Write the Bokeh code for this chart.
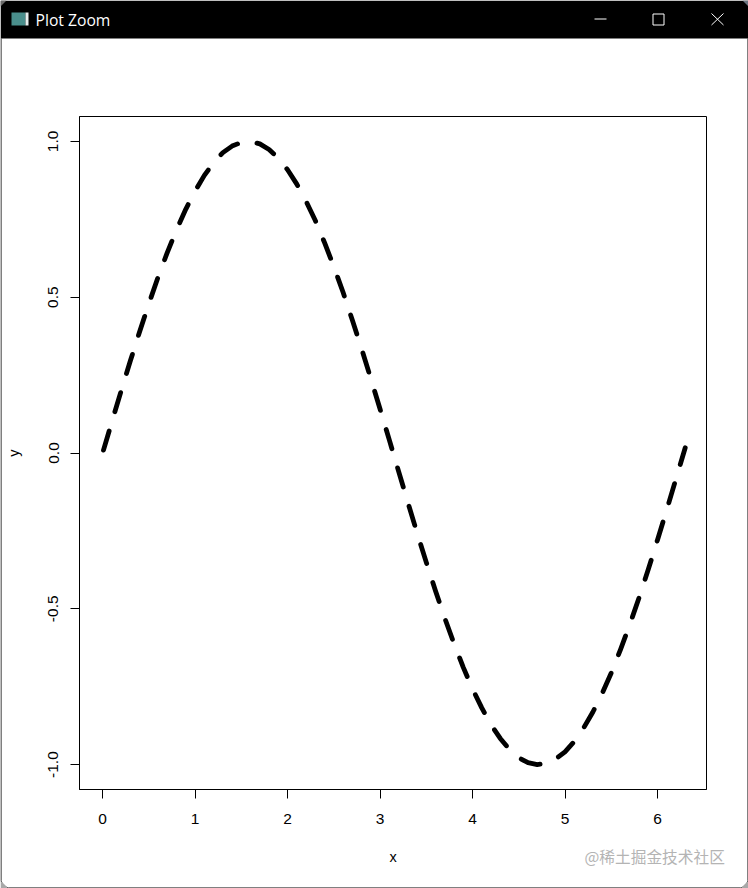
from bokeh.plotting import figure
from bokeh.layouts import column
from bokeh.embed import file_html
from bokeh.resources import INLINE
from bokeh.core.properties import value
from bokeh.models import Range1d, FixedTicker, CustomJSTickFormatter

x_values = [0.0,0.1,0.2,0.3,0.4,0.5,0.6,0.7,0.8,0.9,1.0,1.1,1.2,1.3,1.4,1.5,1.6,1.7,1.8,1.9,
            2.0,2.1,2.2,2.3,2.4,2.5,2.6,2.7,2.8,2.9,3.0,3.1,3.2,3.3,3.4,3.5,3.6,3.7,3.8,3.9,
            4.0,4.1,4.2,4.3,4.4,4.5,4.6,4.7,4.8,4.9,5.0,5.1,5.2,5.3,5.4,5.5,5.6,5.7,5.8,5.9,
            6.0,6.1,6.2,6.3]
y_values = [0.000,0.100,0.199,0.296,0.389,0.479,0.565,0.644,0.717,0.783,0.841,0.891,0.932,0.964,
            0.985,0.997,1.000,0.992,0.974,0.946,0.909,0.863,0.808,0.746,0.675,0.598,0.516,0.427,
            0.335,0.239,0.141,0.042,-0.058,-0.158,-0.256,-0.351,-0.443,-0.530,-0.612,-0.688,-0.757,
            -0.818,-0.872,-0.916,-0.952,-0.978,-0.994,-1.000,-0.996,-0.982,-0.959,-0.926,-0.883,
            -0.832,-0.773,-0.706,-0.631,-0.551,-0.465,-0.374,-0.279,-0.182,-0.083,0.017]
x_ticks = [0, 1, 2, 3, 4, 5, 6]
y_ticks = [-1.0, -0.5, 0.0, 0.5, 1.0]

W, H = 748, 888
ABS = {"position": "absolute", "left": "0px", "top": "0px"}
p = figure(width=W, height=H, output_backend="svg", toolbar_location=None,
           x_range=Range1d(-0.25, 6.53), y_range=Range1d(-1.08, 1.08),
           frame_width=627, frame_height=673, frame_align=False,
           min_border_left=79, min_border_right=42, min_border_top=116, min_border_bottom=99,
           background_fill_color="white", border_fill_color="white", styles=ABS)
p.grid.visible = False
p.outline_line_color = "black"
p.outline_line_width = 1
p.outline_line_alpha = 1

for ax, label, ticks in ((p.xaxis, "x", x_ticks), (p.yaxis, "y", y_ticks)):
    ax.axis_label = label
    ax.ticker = FixedTicker(ticks=ticks)
    ax.axis_line_color = "black"
    ax.major_tick_line_color = "black"
    ax.major_tick_out = 9
    ax.major_tick_in = 0
    ax.minor_tick_line_color = None
    ax.major_label_text_font = "Liberation Sans"
    ax.major_label_text_font_size = "15.5px"
    ax.major_label_text_color = "black"
    ax.axis_label_text_font = "Liberation Sans"
    ax.axis_label_text_font_style = "normal"
    ax.axis_label_text_font_size = "14.5px"
    ax.axis_label_text_color = "black"
p.xaxis.major_label_standoff = 15
p.xaxis.axis_label_standoff = 22
p.yaxis.major_label_orientation = "vertical"
p.yaxis.major_label_standoff = 12
p.yaxis.axis_label_standoff = 24
p.yaxis.formatter = CustomJSTickFormatter(code="return tick.toFixed(1);")

p.line(x_values, y_values, line_color="black", line_width=4.8, line_dash="20 20", line_dash_offset=37,
       line_cap="round", line_join="round")

# window chrome: a transparent full-window figure on top, in window pixels
c = figure(width=W, height=H, output_backend="svg", toolbar_location=None,
           x_range=Range1d(0, W), y_range=Range1d(H, 0), frame_align=False,
           min_border_left=0, min_border_right=0, min_border_top=0, min_border_bottom=0,
           background_fill_color=None, border_fill_color=None, outline_line_color=None, styles=ABS)
c.axis.visible = False
c.grid.visible = False

c.quad(left=[0], right=[W], top=[0], bottom=[38], fill_color="black", line_color=None)
c.line([0.5, 0.5, 2.5, 8, W - 8, W - 2.5, W - 0.5, W - 0.5], [38, H - 8, H - 2.5, H - 0.5, H - 0.5, H - 2.5, H - 8, 38],
       line_color="black", line_width=1)
c.patch([0, 0, 2.5, 8], [H - 8, H, H, H], fill_color="#a8a8a8", line_color=None)
c.patch([W, W, W - 2.5, W - 8], [H - 8, H, H, H], fill_color="#a8a8a8", line_color=None)
c.patch([0, 0, 6], [6, 0, 0], fill_color="#6a6a6a", line_color=None)
c.patch([W, W, W - 6], [6, 0, 0], fill_color="#6a7480", line_color=None)
c.quad(left=[11], right=[25], top=[12], bottom=[25], fill_color="#4a8f8c", line_color=None)
c.quad(left=[25], right=[28], top=[12], bottom=[25], fill_color="#e8eeee", line_color=None)
c.segment(x0=[594], y0=[18.5], x1=[606], y1=[18.5], line_color="white", line_width=1)
c.quad(left=[652.5], right=[663.5], top=[13.5], bottom=[24.5], fill_color=None, line_color="white", line_width=1)
c.segment(x0=[711, 711], y0=[13, 24.5], x1=[723, 723], y1=[24.5, 13], line_color="white", line_width=1)
c.text(x=[35], y=[19], text=["Plot Zoom"], text_color="white", text_font=value("Open Sans"),
       text_font_size="15.7px", text_baseline="middle")
c.text(x=[584], y=[856], text=["@稀土掘金技术社区"], text_color="#b4b4b4", text_font=value("Noto Sans CJK SC"),
       text_font_size="15.7px", text_baseline="middle")

page = column(p, c, width=W, height=H, styles=ABS)
open("out.html", "w").write(file_html(page, INLINE))
